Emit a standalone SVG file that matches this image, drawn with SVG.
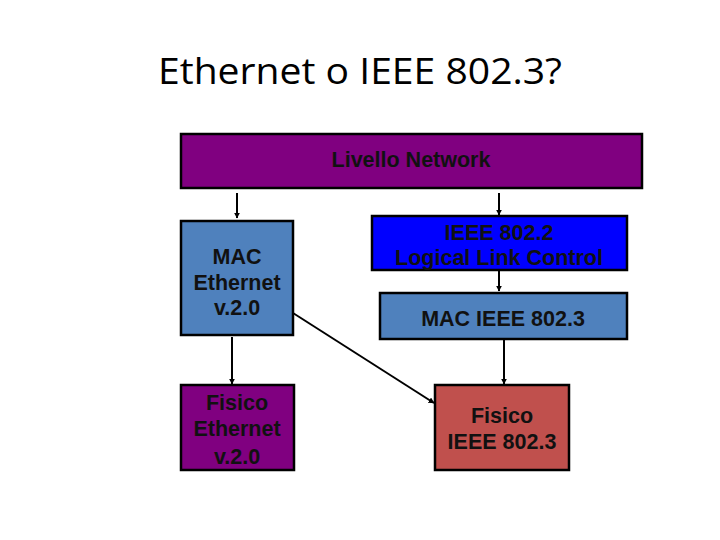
<svg xmlns="http://www.w3.org/2000/svg" width="720" height="540" viewBox="0 0 720 540">
<style>
.box{stroke:#000;stroke-width:2.5}
.t{font-family:"Liberation Sans",Arial,sans-serif;font-weight:bold;font-size:21.5px;fill:#111;text-anchor:middle}
.c{stroke:#000;stroke-width:2;fill:none;marker-end:url(#ah)}
</style>
<defs>
<marker id="ah" viewBox="0 0 10 10" refX="9" refY="5" markerWidth="6" markerHeight="6" orient="auto-start-reverse" markerUnits="userSpaceOnUse">
<path d="M0,0 L10,5 L0,10 z" fill="#000"/>
</marker>
</defs>
<rect width="720" height="540" fill="#fff"/>
<text x="360" y="84" font-family="'Open Sans','Noto Sans',sans-serif" font-size="37" textLength="404" lengthAdjust="spacingAndGlyphs" fill="#000" text-anchor="middle">Ethernet o IEEE 802.3?</text>
<g id="connectors">
<line class="c" x1="237" y1="193" x2="237" y2="218"/>
<line class="c" x1="499" y1="193" x2="499" y2="215"/>
<line class="c" x1="232" y1="337" x2="232" y2="384"/>
<line class="c" x1="499" y1="270" x2="499" y2="291"/>
<line class="c" x1="504" y1="340" x2="504" y2="384"/>
<line class="c" x1="293" y1="313" x2="434" y2="403"/>
</g>
<g id="livello-network">
<rect class="box" x="181" y="134" width="461" height="54" fill="#800080"/>
<text class="t" x="411" y="167">Livello Network</text>
</g>
<g id="mac-ethernet">
<rect class="box" x="181" y="221" width="112" height="114" fill="#4F81BD"/>
<text class="t" x="237" y="264">MAC</text>
<text class="t" x="237" y="290">Ethernet</text>
<text class="t" x="237" y="315">v.2.0</text>
</g>
<g id="fisico-ethernet">
<rect class="box" x="181" y="385" width="113" height="85" fill="#800080"/>
<text class="t" x="237" y="410">Fisico</text>
<text class="t" x="237" y="436">Ethernet</text>
<text class="t" x="237" y="464">v.2.0</text>
</g>
<g id="llc">
<rect class="box" x="372" y="216" width="255" height="54" fill="#0000FF"/>
<text class="t" x="499" y="240">IEEE 802.2</text>
<text class="t" x="499" y="265">Logical Link Control</text>
</g>
<g id="mac-ieee">
<rect class="box" x="380" y="293" width="247" height="46" fill="#4F81BD"/>
<text class="t" x="503" y="326">MAC IEEE 802.3</text>
</g>
<g id="fisico-ieee">
<rect class="box" x="435" y="385" width="134" height="85" fill="#C0504D"/>
<text class="t" x="502" y="423">Fisico</text>
<text class="t" x="502" y="449">IEEE 802.3</text>
</g>
</svg>
